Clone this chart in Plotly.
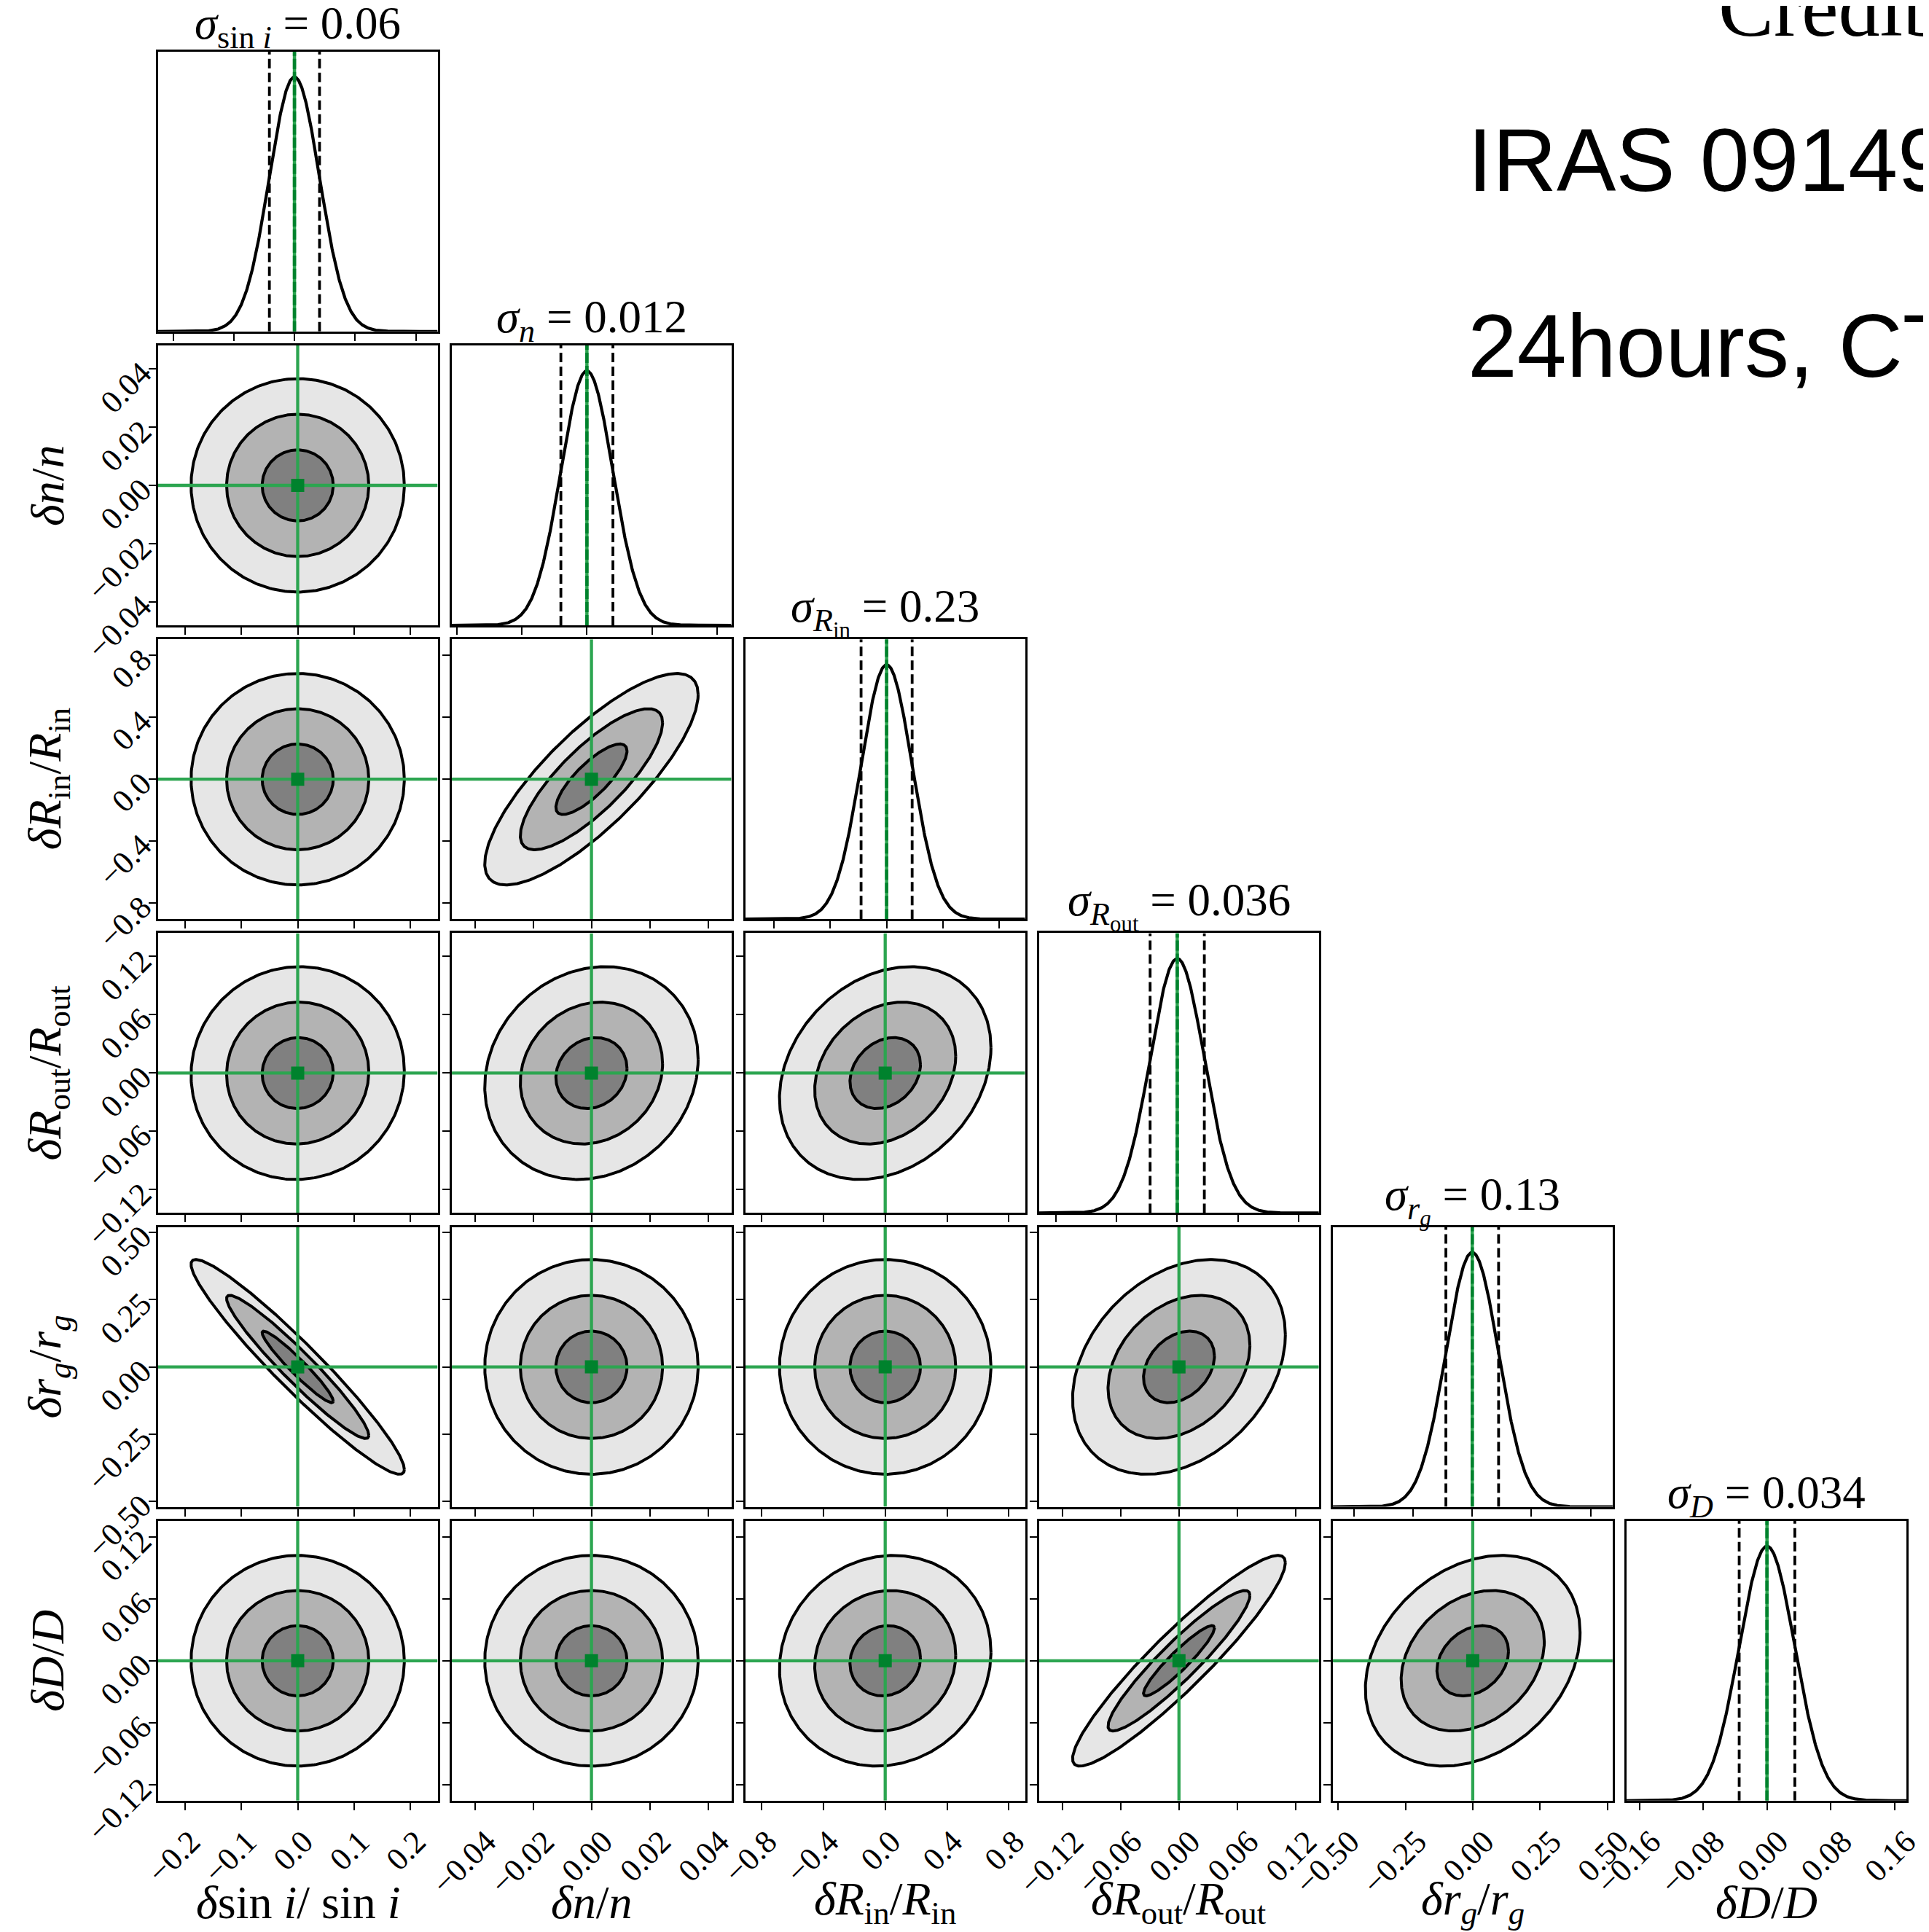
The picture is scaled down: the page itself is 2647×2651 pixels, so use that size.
import numpy as np
import plotly.graph_objects as go

# ---------------- data ----------------
axis_labels = [
    "<i>δ</i>sin <i>i</i>/ sin <i>i</i>",
    "<i>δn</i>/<i>n</i>",
    "<i>δR</i><sub>in</sub>/<i>R</i><sub>in</sub>",
    "<i>δR</i><sub>out</sub>/<i>R</i><sub>out</sub>",
    "<i>δr<sub>g</sub></i>/<i>r<sub>g</sub></i>",
    "<i>δD</i>/<i>D</i>",
]
title_sub = ["sin <i>i</i>", "<i>n</i>", "<i>R</i><sub>in</sub>", "<i>R</i><sub>out</sub>", "<i>r<sub>g</sub></i>", "<i>D</i>"]
sigma_title = ["0.06", "0.012", "0.23", "0.036", "0.13", "0.034"]
truths = [0.0, 0.0, 0.0, 0.0, 0.0, 0.0]

# 2D panels: 1-sigma widths of the contours and the half ranges of the axes
sig2d = [0.063, 0.0122, 0.228, 0.0365, 0.133, 0.034]
half_range2d = [0.248, 0.048, 0.905, 0.144, 0.52, 0.1355]
ticks2d = [
    [-0.2, -0.1, 0.0, 0.1, 0.2],
    [-0.04, -0.02, 0.0, 0.02, 0.04],
    [-0.8, -0.4, 0.0, 0.4, 0.8],
    [-0.12, -0.06, 0.0, 0.06, 0.12],
    [-0.5, -0.25, 0.0, 0.25, 0.5],
    [-0.12, -0.06, 0.0, 0.06, 0.12],
]
ticktext2d = [
    ["−0.2", "−0.1", "0.0", "0.1", "0.2"],
    ["−0.04", "−0.02", "0.00", "0.02", "0.04"],
    ["−0.8", "−0.4", "0.0", "0.4", "0.8"],
    ["−0.12", "−0.06", "0.00", "0.06", "0.12"],
    ["−0.50", "−0.25", "0.00", "0.25", "0.50"],
    ["−0.12", "−0.06", "0.00", "0.06", "0.12"],
]

# 1D (diagonal) panels
sig1d = [0.062, 0.012, 0.227, 0.0357, 0.1335, 0.0349]
diag_lo = [-0.338, -0.0624, -1.256, -0.182, -0.7065, -0.1762]
diag_hi = [0.354, 0.0666, 1.231, 0.1866, 0.7115, 0.1749]
diag_ticks = [
    [-0.3, -0.15, 0.0, 0.15, 0.3],
    [-0.06, -0.03, 0.0, 0.03, 0.06],
    [-1.0, -0.5, 0.0, 0.5, 1.0],
    [-0.16, -0.08, 0.0, 0.08, 0.16],
    [-0.6, -0.3, 0.0, 0.3, 0.6],
    [-0.16, -0.08, 0.0, 0.08, 0.16],
]
diag_ticktext_last = ["−0.16", "−0.08", "0.00", "0.08", "0.16"]

# correlation coefficients, (row, col) with row > col
corr = {
    (1, 0): 0.0,
    (2, 0): 0.0, (2, 1): 0.80,
    (3, 0): 0.02, (3, 1): 0.13, (3, 2): 0.24,
    (4, 0): -0.955, (4, 1): 0.0, (4, 2): 0.0, (4, 3): 0.30,
    (5, 0): 0.0, (5, 1): 0.0, (5, 2): 0.08, (5, 3): 0.93, (5, 4): 0.27,
}
contour_radii = [3, 2, 1]
contour_fills = ["#e6e6e6", "#b3b3b3", "#808080"]

side_texts = ["Credible regions", "IRAS 09149-6206", "24hours, CTA"]

# ---------------- geometry (page pixels; the page body has an 8px margin) ----------------
PAGE_W, PAGE_H, OFF = 2647, 2651, 8
W, H = PAGE_W - OFF, PAGE_H - OFF
left0, top0, step_x, step_y, size = 216.5, 70.8, 403.1, 403.2, 384.0


def px(p):
    return (p - OFF) / W


def py(p):
    return 1 - (p - OFF) / H


def xdom(j):
    l = left0 + step_x * j
    return [px(l), px(l + size)]


def ydom(i):
    t = top0 + step_y * i
    return [py(t + size), py(t)]


TICK_SIZE = 44
GREEN = "rgb(44,165,80)"
DKGREEN = "rgb(0,130,45)"
TICKFONT = dict(family="Liberation Serif", size=TICK_SIZE, color="black")
LABEL_SIZE = 64


def center_shift(texts):
    # horizontal shift (px) that centres 45-degree rotated labels on their ticks
    widths = {"−": 0.564, ".": 0.25}
    lens = [sum(widths.get(c, 0.5) for c in t) * TICK_SIZE for t in texts]
    return int(round(0.354 * float(np.mean(lens)) - 15))


fig = go.Figure()
layout = {}
annotations = []

base_axis = dict(
    showgrid=False, zeroline=False, showline=True, mirror=True,
    linecolor="black", linewidth=2.8, ticks="outside", ticklen=10,
    tickwidth=2.4, tickcolor="black", automargin=False, tickfont=TICKFONT,
    tickmode="array", tickangle=-45, ticklabeloverflow="allow",
)

k = 0
for i in range(6):
    for j in range(i + 1):
        k += 1
        xs = "x" if k == 1 else f"x{k}"
        ys = "y" if k == 1 else f"y{k}"
        xkey = "xaxis" if k == 1 else f"xaxis{k}"
        ykey = "yaxis" if k == 1 else f"yaxis{k}"
        if i == j:
            s = sig1d[i]
            lo, hi = diag_lo[i], diag_hi[i]
            xg = np.linspace(lo, hi, 600)
            yg = np.exp(-0.5 * ((xg - truths[i]) / s) ** 2)
            ytop = 1.1
            fig.add_trace(go.Scatter(x=xg, y=yg, xaxis=xs, yaxis=ys, mode="lines",
                                     line=dict(color="black", width=4.2), hoverinfo="skip"))
            for q in (-s, s):
                fig.add_trace(go.Scatter(x=[truths[i] + q, truths[i] + q], y=[0, ytop], xaxis=xs, yaxis=ys,
                                         mode="lines", line=dict(color="black", width=3.8, dash="13px,6px"),
                                         hoverinfo="skip"))
            fig.add_trace(go.Scatter(x=[truths[i], truths[i]], y=[0, ytop], xaxis=xs, yaxis=ys, mode="lines",
                                     line=dict(color=GREEN, width=4.5), hoverinfo="skip"))
            fig.add_trace(go.Scatter(x=[truths[i], truths[i]], y=[0, ytop], xaxis=xs, yaxis=ys, mode="lines",
                                     line=dict(color=DKGREEN, width=4.5, dash="14px,4px"), hoverinfo="skip"))
            xa = dict(base_axis, domain=xdom(j), anchor=ys, range=[lo, hi], tickvals=diag_ticks[i])
            if i == 5:
                xa.update(showticklabels=True, ticktext=diag_ticktext_last,
                          ticklabelshift=center_shift(diag_ticktext_last))
            else:
                xa.update(showticklabels=False)
            ya = dict(base_axis, domain=ydom(i), anchor=xs, range=[0, ytop], ticks="",
                      showticklabels=False, tickvals=[])
            layout[xkey] = xa
            layout[ykey] = ya
            t = top0 + step_y * i
            annotations.append(dict(
                x=(xdom(j)[0] + xdom(j)[1]) / 2, y=py(t + 7), xref="paper", yref="paper",
                xanchor="center", yanchor="bottom", showarrow=False,
                text=f"<i>σ</i><sub>{title_sub[i]}</sub> = {sigma_title[i]}",
                font=dict(family="Liberation Serif", size=63, color="black")))
        else:
            sx, sy = sig2d[j], sig2d[i]
            rho = corr[(i, j)]
            tt = np.linspace(0, 2 * np.pi, 361)
            for r, fc in zip(contour_radii, contour_fills):
                u = r * np.cos(tt)
                v = r * np.sin(tt)
                ex = truths[j] + sx * u
                ey = truths[i] + sy * (rho * u + np.sqrt(1 - rho ** 2) * v)
                fig.add_trace(go.Scatter(x=ex, y=ey, xaxis=xs, yaxis=ys, mode="lines", fill="toself",
                                         fillcolor=fc, line=dict(color="black", width=4.0),
                                         hoverinfo="skip"))
            rx, ry = half_range2d[j], half_range2d[i]
            fig.add_trace(go.Scatter(x=[-rx, rx], y=[truths[i], truths[i]], xaxis=xs, yaxis=ys, mode="lines",
                                     line=dict(color=GREEN, width=4.3), hoverinfo="skip"))
            fig.add_trace(go.Scatter(x=[truths[j], truths[j]], y=[-ry, ry], xaxis=xs, yaxis=ys, mode="lines",
                                     line=dict(color=GREEN, width=4.3), hoverinfo="skip"))
            fig.add_trace(go.Scatter(x=[truths[j]], y=[truths[i]], xaxis=xs, yaxis=ys, mode="markers",
                                     marker=dict(symbol="square", size=18, color=DKGREEN), hoverinfo="skip"))
            xa = dict(base_axis, domain=xdom(j), anchor=ys, range=[-rx, rx], tickvals=ticks2d[j])
            if i == 5:
                xa.update(showticklabels=True, ticktext=ticktext2d[j],
                          ticklabelshift=center_shift(ticktext2d[j]))
            else:
                xa.update(showticklabels=False)
            ya = dict(base_axis, domain=ydom(i), anchor=xs, range=[-ry, ry], tickvals=ticks2d[i])
            if j == 0:
                ya.update(showticklabels=True, ticktext=ticktext2d[i])
            else:
                ya.update(showticklabels=False)
            layout[xkey] = xa
            layout[ykey] = ya

# axis titles
for j in range(6):
    annotations.append(dict(
        x=(xdom(j)[0] + xdom(j)[1]) / 2, y=py(2610), xref="paper", yref="paper",
        xanchor="center", yanchor="middle", showarrow=False, text=axis_labels[j],
        font=dict(family="Liberation Serif", size=LABEL_SIZE, color="black")))
for i in range(1, 6):
    annotations.append(dict(
        x=px(66), y=(ydom(i)[0] + ydom(i)[1]) / 2, xref="paper", yref="paper",
        xanchor="center", yanchor="middle", showarrow=False, text=axis_labels[i], textangle=-90,
        font=dict(family="Liberation Serif", size=LABEL_SIZE, color="black")))

# side texts (cut by the right/top edges, as in the reference)
annotations.append(dict(x=px(2356), y=py(10), xref="paper", yref="paper", xanchor="left", yanchor="middle",
                        showarrow=False, text=side_texts[0],
                        font=dict(family="Liberation Serif", size=114, color="black")))
annotations.append(dict(x=px(2012), y=py(220), xref="paper", yref="paper", xanchor="left", yanchor="middle",
                        showarrow=False, text=side_texts[1],
                        font=dict(family="Liberation Sans", size=122, color="black")))
annotations.append(dict(x=px(2012), y=py(475), xref="paper", yref="paper", xanchor="left", yanchor="middle",
                        showarrow=False, text=side_texts[2],
                        font=dict(family="Liberation Sans", size=122, color="black")))

fig.update_layout(
    width=W, height=H, margin=dict(l=0, r=0, t=0, b=0),
    paper_bgcolor="white", plot_bgcolor="white", showlegend=False,
    font=dict(family="Liberation Serif", color="black"),
    annotations=annotations, **layout,
)
fig.write_html("out.html")
